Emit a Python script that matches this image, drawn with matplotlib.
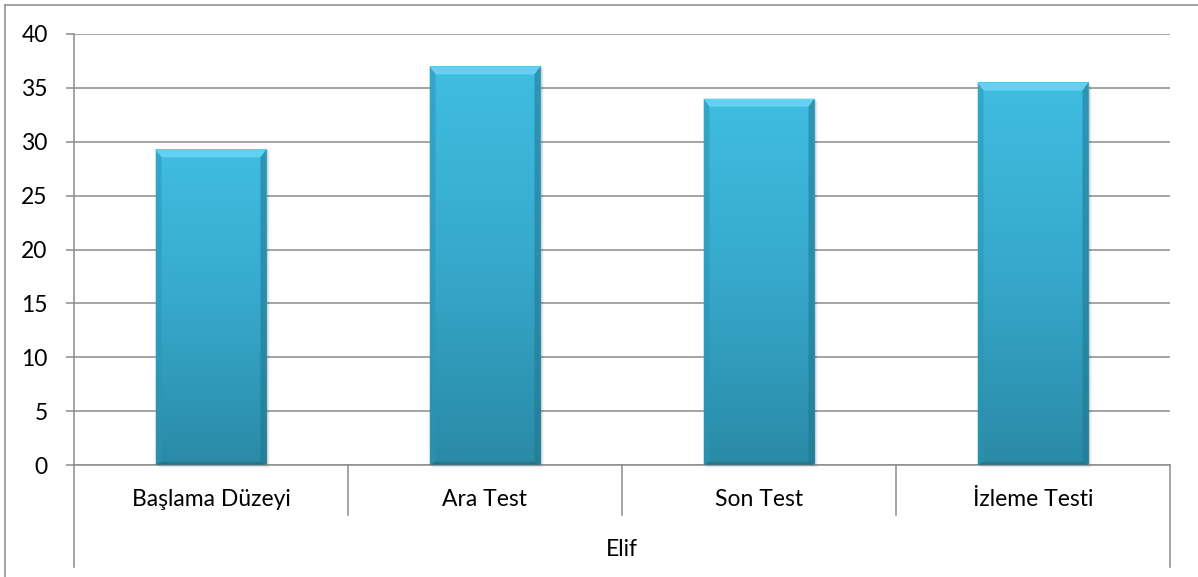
import numpy as np
import matplotlib.pyplot as plt
from matplotlib.colors import LinearSegmentedColormap
from matplotlib.patches import Polygon, Rectangle
from matplotlib.lines import Line2D

plt.rcParams['font.family'] = ['Lato', 'DejaVu Sans']

categories = ['Başlama Düzeyi', 'Ara Test', 'Son Test', 'İzleme Testi']
group = 'Elif'
scores = [29.3, 37, 34, 35.5]
yticks = [0, 5, 10, 15, 20, 25, 30, 35, 40]

W, H = 1198, 577
fs = 16.5
fig = plt.figure(figsize=(W / 100, H / 100), dpi=100)
gray = '#8c8c8c'

# outer chart frame (only top and left edges are inside the image)
fig.add_artist(Line2D([5 / W, 5 / W], [0, 1 - 5 / H], color=gray, lw=1.1))
fig.add_artist(Line2D([5 / W, 1], [1 - 5 / H, 1 - 5 / H], color=gray, lw=1.1))

left, right, top, bottom = 74, 1170, 34, 465
ax = fig.add_axes([left / W, 1 - bottom / H, (right - left) / W, (bottom - top) / H])
n = len(categories)
ax.set_xlim(0, n)
ax.set_ylim(0, 40)
ax.set_yticks(yticks)
ax.set_xticks([])
ax.grid(axis='y', color=gray, lw=1.1, zorder=0)
ax.set_axisbelow(True)
for s in ['top', 'right']:
    ax.spines[s].set_visible(False)
ax.spines['left'].set_color(gray)
ax.spines['bottom'].set_color(gray)
ax.spines['left'].set_linewidth(1.1)
ax.spines['bottom'].set_linewidth(1.1)
ax.tick_params(axis='y', length=6, width=1.1, color=gray, pad=13, labelsize=fs)

cmap = LinearSegmentedColormap.from_list('bar', ['#2a8aa6', '#36a8cb', '#40bde2'])
grad = np.linspace(0, 1, 256).reshape(-1, 1)
bw = 0.405
bev_y = 0.75
bev_x = 0.022

bars = ax.bar(np.arange(n) + 0.5, scores, width=bw, color='none', zorder=2)
for b, v in zip(bars, scores):
    x0 = b.get_x()
    x1 = x0 + bw
    # soft shadow at the right and bottom
    for k, a in enumerate([0.10, 0.06, 0.03]):
        ax.add_patch(Rectangle((x0 + 0.004 * (k + 1), -0.1 * (k + 1)), bw, v,
                               color='black', alpha=a, lw=0, zorder=1.5, clip_on=False))
    im = ax.imshow(grad, extent=[x0, x1, 0, v], origin='lower', cmap=cmap,
                   aspect='auto', zorder=2, interpolation='bicubic')
    im.set_clip_path(b)
    # bevel: lighter top, darker sides and bottom
    ax.add_patch(Polygon([[x0, v], [x1, v], [x1 - bev_x, v - bev_y], [x0 + bev_x, v - bev_y]],
                         color='#62d2f0', lw=0, zorder=3))
    ax.add_patch(Polygon([[x0, v], [x0 + bev_x, v - bev_y], [x0 + bev_x, bev_y * 0.4], [x0, 0]],
                         color='#2b95b4', alpha=0.55, lw=0, zorder=3))
    ax.add_patch(Polygon([[x1, v], [x1 - bev_x, v - bev_y], [x1 - bev_x, bev_y * 0.4], [x1, 0]],
                         color='#1f7690', alpha=0.55, lw=0, zorder=3))
    ax.add_patch(Polygon([[x0, 0], [x1, 0], [x1 - bev_x, bev_y * 0.4], [x0 + bev_x, bev_y * 0.4]],
                         color='#1f6f86', alpha=0.7, lw=0, zorder=3))

# two-level category axis below the plot
def fy(py):
    return 1 - py / H

for i in range(n + 1):
    px = left + (right - left) * i / n
    end = 567 if i in (0, n) else 515
    fig.add_artist(Line2D([px / W, px / W], [fy(bottom), fy(end)], color=gray, lw=1.1))
for i, c in enumerate(categories):
    px = left + (right - left) * (i + 0.5) / n
    fig.text(px / W, fy(500), c, ha='center', va='center', fontsize=fs)
fig.text((left + right) / 2 / W, fy(550), group, ha='center', va='center', fontsize=fs)

fig.savefig('out.png', dpi=100)
